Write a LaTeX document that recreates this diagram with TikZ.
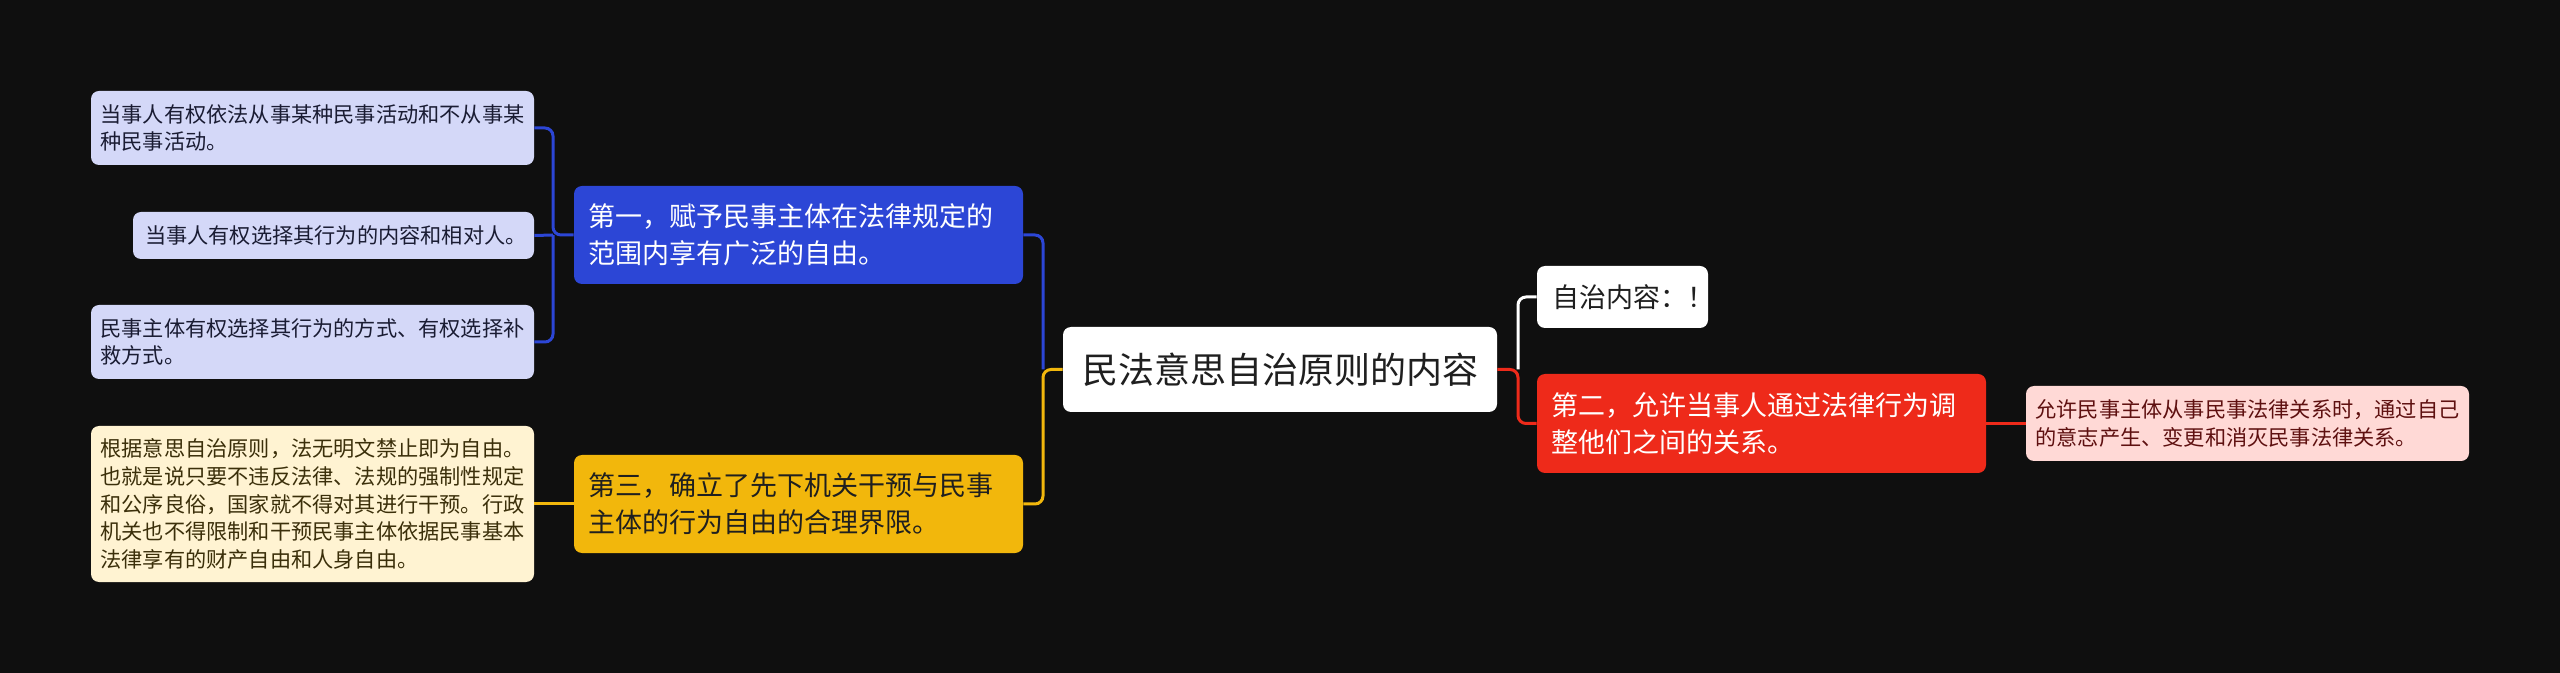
\documentclass[tikz,border=0pt]{standalone}
\usepackage{fontspec}
\setmainfont{Noto Sans CJK SC}
\definecolor{bg}{HTML}{0F0F0F}
\definecolor{cblue}{HTML}{2C46D6}
\definecolor{cyellow}{HTML}{F2B70C}
\definecolor{cred}{HTML}{EE2A1A}
\definecolor{lblue}{HTML}{D4D8F8}
\definecolor{lyellow}{HTML}{FFF3D2}
\definecolor{lpink}{HTML}{FFD9D6}
\definecolor{tdark}{HTML}{1F1F1F}
\definecolor{tblue}{HTML}{1A1C33}
\definecolor{tyellow}{HTML}{3B2F0A}
\definecolor{tpink}{HTML}{5E1010}
\begin{document}
\begin{tikzpicture}[x=0.5pt,y=-0.5pt,
  box/.style={rounded corners=4pt, inner ysep=0pt, anchor=center},
  leaffont/.style={font=\fontsize{10.6pt}{13.9pt}\selectfont},
  mainfont/.style={font=\fontsize{13.5pt}{18.5pt}\selectfont},
  leafbox/.style={box, leaffont, align=left, inner xsep=4.75pt, text width=212pt},
  mainbox/.style={box, mainfont, align=left, inner xsep=7pt, text width=210.5pt, minimum height=49pt},
  conn/.style={line width=1.5pt, rounded corners=4pt}]
\fill[bg] (0,0) rectangle (2560,673);
\useasboundingbox (0,0) rectangle (2560,673);

% root
\node[box, fill=white, text=tdark, font=\fontsize{18pt}{22pt}\selectfont, minimum width=217pt, minimum height=42.5pt, inner xsep=0pt, align=center] (root) at (1280,369.5) {民法意思自治原则的内容};

% left main nodes
\node[mainbox, fill=cblue, text=white] (m1) at (798.5,235) {第一，赋予民事主体在法律规定的\\范围内享有广泛的自由。};
\node[mainbox, fill=cyellow, text=tdark] (m3) at (798.5,504) {第三，确立了先下机关干预与民事\\主体的行为自由的合理界限。};

% right main nodes
\node[box, mainfont, fill=white, text=tdark, minimum height=31pt, inner xsep=7.5pt, text width=70.5pt, align=left] (w) at (1622.5,297) {自治内容：！};
\node[mainbox, fill=cred, text=white, minimum height=49.5pt] (m2) at (1761.5,423.5) {第二，允许当事人通过法律行为调\\整他们之间的关系。};

% leaves of m1
\node[leafbox, fill=lblue, text=tblue, minimum height=37pt] (a1) at (312.5,128) {当事人有权依法从事某种民事活动和不从事某\\种民事活动。};
\node[box, leaffont, align=left, inner xsep=6pt, text width=188.5pt, fill=lblue, text=tblue, minimum height=23.5pt] (a2) at (333.5,235.5) {当事人有权选择其行为的内容和相对人。};
\node[leafbox, fill=lblue, text=tblue, minimum height=37pt] (a3) at (312.5,342) {民事主体有权选择其行为的方式、有权选择补\\救方式。};

% leaf of m3
\node[leafbox, fill=lyellow, text=tyellow, minimum height=78pt] (c1) at (312.5,504) {根据意思自治原则，法无明文禁止即为自由。\\也就是说只要不违反法律、法规的强制性规定\\和公序良俗，国家就不得对其进行干预。行政\\机关也不得限制和干预民事主体依据民事基本\\法律享有的财产自由和人身自由。};

% leaf of m2
\node[leafbox, fill=lpink, text=tpink, minimum height=37.5pt] (b1) at (2247.5,423.5) {允许民事主体从事民事法律关系时，通过自己\\的意志产生、变更和消灭民事法律关系。};

% junction coordinates
\coordinate (jl) at (1043,369.5);
\coordinate (jr) at (1518,369.5);
\coordinate (j1) at (553,235);

% connectors root -> left
\draw[conn, cyellow] (root.west) -- (jl) |- (m3.east);
\draw[conn, cblue] (jl) |- (m1.east);
% root -> right
\draw[conn, cred] (root.east) -- (jr) |- (m2.west);
\draw[conn, white] (jr) |- (w.west);
% m1 -> leaves
\draw[conn, cblue] (m1.west) -- (j1) |- (a1.east);
\draw[conn, cblue] (j1) |- (a3.east);
\draw[conn, cblue] (j1) -- (a2.east);
% m3 -> leaf
\draw[conn, cyellow] (m3.west) -- (c1.east);
% m2 -> leaf
\draw[conn, cred] (m2.east) -- (b1.west);
\end{tikzpicture}
\end{document}
